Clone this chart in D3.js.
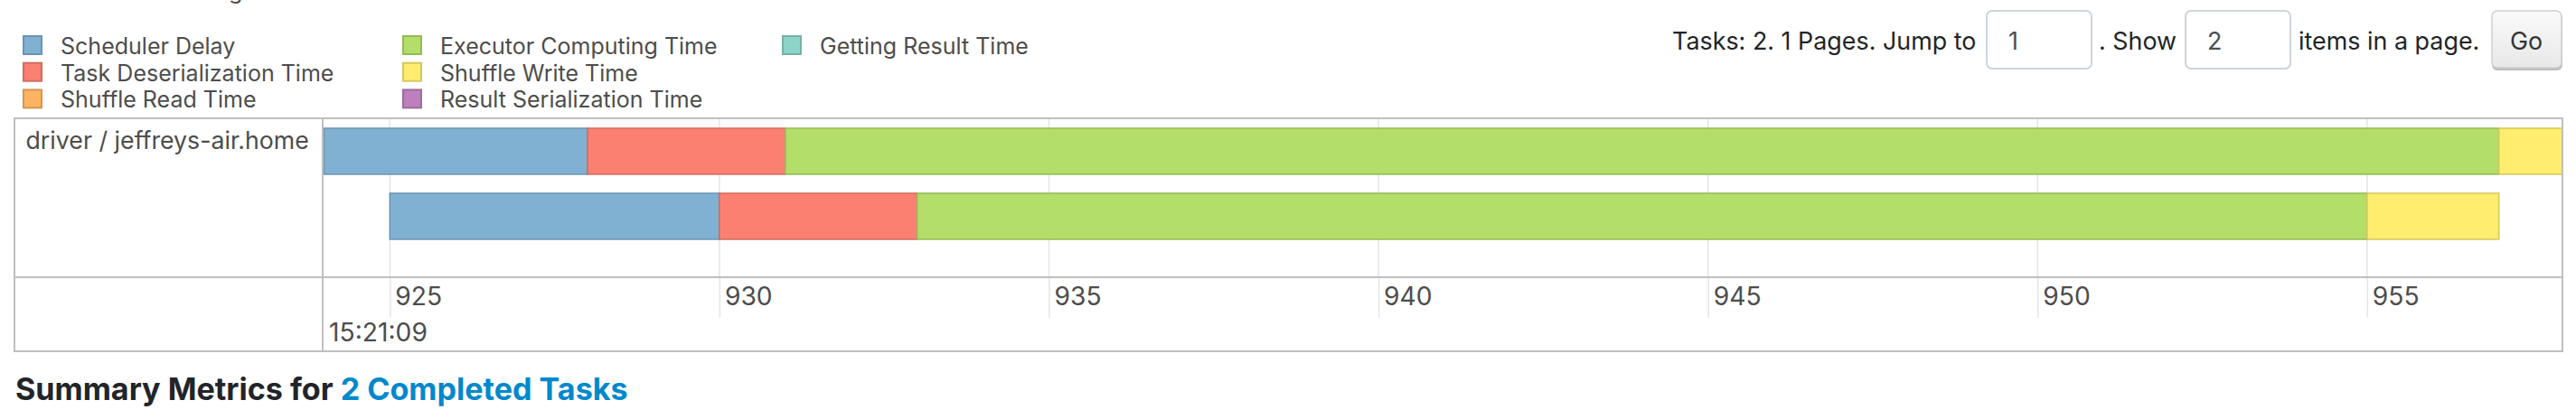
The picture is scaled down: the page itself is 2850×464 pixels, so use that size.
<!DOCTYPE html>
<html><head><meta charset="utf-8">
<script src="https://cdn.jsdelivr.net/npm/d3@7"></script>
<style>
html,body{margin:0;padding:0;background:#fff;}
svg{display:block;font-family:Inter,"Noto Sans",sans-serif;}
</style></head><body>
<svg id="c" width="2850" height="464"></svg>
<script>
// ---- data ----
const categories = ["Scheduler Delay", "Task Deserialization Time", "Shuffle Read Time",
  "Executor Computing Time", "Shuffle Write Time", "Result Serialization Time", "Getting Result Time"];
const fills   = ["#80B1D3", "#FB8072", "#FDB462", "#B3DE69", "#FFED6F", "#BC80BD", "#8DD3C7"];
const strokes = ["#6B94B0", "#D26B5F", "#D39651", "#95B957", "#D5C65C", "#9D6B9E", "#75B0A6"];
const executors = ["driver / jeffreys-air.home"];
const taskLaunch = [924, 925];                 // ms within second 15:21:09
const taskDurations = [[4, 3, 0, 26, 1, 0, 0],  // per category, ms
                       [5, 3, 0, 22, 2, 0, 0]];
const timeDomain = [924, 958];
const tickValues = [925, 930, 935, 940, 945, 950, 955];
const tickLabels = ["925", "930", "935", "940", "945", "950", "955"];
const majorLabel = "15:21:09";
const pagerTexts = ["Tasks: 2. 1 Pages. Jump to", ". Show", "items in a page."];
const pagerValues = ["1", "2"];

// ---- layout ----
const svg = d3.select("#c");
const W = 2850;
const frame = {left: 16, right: 2835, top: 131, sep: 307, bottom: 389, divider: 357};
const x = d3.scaleLinear().domain(timeDomain).range([358.4, 2837.6]);
const y = d3.scaleBand().domain(d3.range(taskLaunch.length)).range([142, 265]).paddingInner(21 / 72).paddingOuter(0);

function fit(sel, w) {
  const n = sel.node();
  const cur = n.getComputedTextLength();
  const fs = parseFloat(sel.attr("font-size"));
  const nfs = fs * w / cur;
  sel.attr("font-size", nfs);
  return nfs;
}

// cut-off text at top
svg.append("text").attr("x", 80).attr("y", -1).attr("font-size", 25).attr("fill", "#4d4d4d").text("Enable zooming");

// ---- legend ----
const leg = svg.append("g");
const legItems = leg.selectAll("g").data(categories).join("g")
  .attr("transform", (d, i) => `translate(${[26, 446, 866][Math.floor(i / 3)]},${40 + (i % 3) * 29.7})`);
legItems.append("rect").attr("width", 20).attr("height", 20)
  .attr("fill", (d, i) => fills[i]).attr("stroke", (d, i) => strokes[i]).attr("stroke-width", 2);
const legTexts = legItems.append("text").attr("x", 41).attr("y", 20).attr("font-size", 25).attr("fill", "#4d4d4d").text(d => d);
const legFs = fit(d3.select(legTexts.nodes()[1]), 302.7);
legTexts.attr("font-size", legFs);

// ---- pager controls ----
const pg = svg.append("g").attr("fill", "#212529");
const t1 = pg.append("text").attr("x", 1850).attr("y", 55).attr("font-size", 28).text(pagerTexts[0]);
const pfs = fit(t1, 336.7);
const boxes = [[2197, 2315], [2417, 2535]];
boxes.forEach((b, i) => {
  pg.append("rect").attr("x", b[0] + 1).attr("y", 12).attr("width", b[1] - b[0] - 2).attr("height", 64)
    .attr("rx", 6).attr("fill", "#fff").attr("stroke", "#ced4da").attr("stroke-width", 2);
  pg.append("text").attr("x", b[0] + 25).attr("y", 55).attr("font-size", pfs).attr("fill", "#495057").text(pagerValues[i]);
});
pg.append("text").attr("x", 2322).attr("y", 55).attr("font-size", pfs).text(pagerTexts[1]);
pg.append("text").attr("x", 2543).attr("y", 55).attr("font-size", pfs).text(pagerTexts[2]);
const defs = svg.append("defs");
const grad = defs.append("linearGradient").attr("id", "gobtn").attr("x1", 0).attr("x2", 0).attr("y1", 0).attr("y2", 1);
grad.append("stop").attr("offset", "0%").attr("stop-color", "#fafafa");
grad.append("stop").attr("offset", "100%").attr("stop-color", "#e8e8e8");
pg.append("rect").attr("x", 2757).attr("y", 14).attr("width", 78).attr("height", 64).attr("rx", 6).attr("fill", "#bdbdbd");
pg.append("rect").attr("x", 2757).attr("y", 12).attr("width", 77).attr("height", 63).attr("rx", 6)
  .attr("fill", "url(#gobtn)").attr("stroke", "#d0d0d0").attr("stroke-width", 1.5);
pg.append("text").attr("x", 2795).attr("y", 55).attr("font-size", pfs).attr("text-anchor", "middle").attr("fill", "#333").text("Go");

// ---- timeline ----
const tl = svg.append("g");
// grid lines in the item area
tl.append("g").selectAll("line").data(tickValues).join("line")
  .attr("x1", d => x(d)).attr("x2", d => x(d)).attr("y1", frame.top).attr("y2", frame.sep)
  .attr("stroke", "#e5e5e5").attr("stroke-width", 1.5);

defs.append("clipPath").attr("id", "panel").append("rect")
  .attr("x", frame.divider + 1).attr("y", frame.top).attr("width", frame.right - frame.divider - 1).attr("height", frame.sep - frame.top);

const segs = [];
taskDurations.forEach((durs, ti) => {
  let t = taskLaunch[ti];
  durs.forEach((d, ci) => { if (d > 0) segs.push({task: ti, cat: ci, start: t, end: t + d}); t += d; });
});
tl.append("g").attr("clip-path", "url(#panel)").selectAll("rect").data(segs).join("rect")
  .attr("x", d => x(d.start)).attr("width", d => x(d.end) - x(d.start))
  .attr("y", d => y(d.task)).attr("height", y.bandwidth())
  .attr("fill", d => fills[d.cat]).attr("stroke", d => strokes[d.cat]).attr("stroke-width", 1.5);

// executor label
const lbl = tl.append("text").attr("x", 28.5).attr("y", 165).attr("font-size", 24).attr("fill", "#4d4d4d").text(executors[0]);
fit(lbl, 313.5);

// axis
const axisG = tl.append("g").attr("transform", `translate(0,${frame.sep + 1})`)
  .call(d3.axisBottom(x).tickValues(tickValues).tickFormat((d, i) => tickLabels[i]).tickSize(44));
axisG.select(".domain").remove();
axisG.selectAll(".tick line").attr("stroke", "#e5e5e5").attr("stroke-width", 1.5);
axisG.selectAll(".tick text").attr("x", 5.5).attr("y", 30).attr("dy", 0).attr("text-anchor", "start")
  .attr("fill", "#4d4d4d").attr("font-family", "Inter").attr("font-size", 26);
const maj = tl.append("text").attr("x", 364).attr("y", 377.7).attr("font-size", 26).attr("fill", "#4d4d4d").text(majorLabel);
const afs = fit(maj, 109);
axisG.selectAll(".tick text").attr("font-size", afs);

// frame lines
const fr = tl.append("g").attr("stroke", "#bfbfbf").attr("stroke-width", 2).attr("fill", "none");
fr.append("rect").attr("x", frame.left).attr("y", frame.top).attr("width", frame.right - frame.left).attr("height", frame.bottom - frame.top);
fr.append("line").attr("x1", frame.left).attr("x2", frame.right).attr("y1", frame.sep).attr("y2", frame.sep);
fr.append("line").attr("x1", frame.divider).attr("x2", frame.divider).attr("y1", frame.top).attr("y2", frame.bottom);

// ---- heading ----
const h = svg.append("text").attr("x", 17).attr("y", 443.3).attr("font-size", 30).attr("font-weight", 700).attr("fill", "#212529");
h.append("tspan").text("Summary Metrics for ");
h.append("tspan").attr("fill", "#0088cc").text("2 Completed Tasks");
fit(h, 678);
</script>
</body></html>
